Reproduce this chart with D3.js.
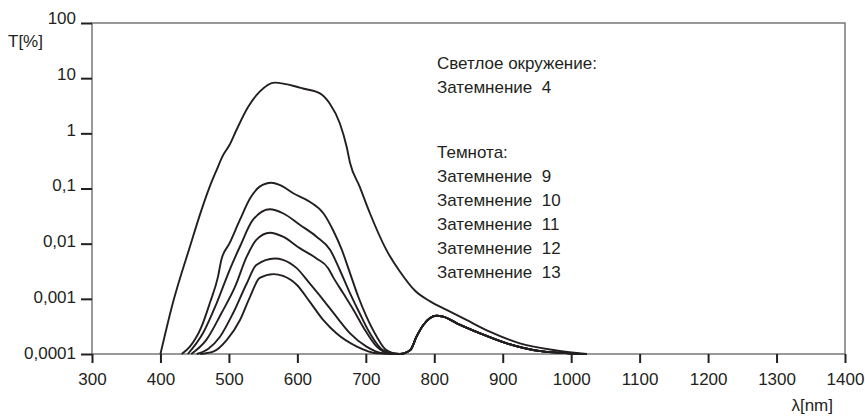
<!DOCTYPE html>
<html>
<head>
<meta charset="utf-8">
<script src="https://cdn.jsdelivr.net/npm/d3@7"></script>
<style>
  body { margin: 0; background: #fff; }
  text { font-family: "Liberation Sans", Arial, sans-serif; fill: #231f20; }
</style>
</head>
<body>
<div id="chart"></div>
<script>
var xTicks = [300, 400, 500, 600, 700, 800, 900, 1000, 1100, 1200, 1300, 1400];
var yTicks = [0.0001, 0.001, 0.01, 0.1, 1, 10, 100];
var yTickLabels = ["0,0001", "0,001", "0,01", "0,1", "1", "10", "100"];

// [wavelength nm, transmission %]
var shade4 = [[400, 0.0001], [418, 0.00083], [443, 0.0088], [460, 0.041], [472, 0.108], [482, 0.216],
  [491, 0.39], [501, 0.62], [511, 1.15], [528, 3.0], [545, 5.7], [567, 8.3], [599, 7.0],
  [608, 6.5], [633, 5.3], [647, 3.5], [662, 1.52], [672, 0.57], [677, 0.29], [691, 0.108], [706, 0.0356],
  [730, 0.0077], [750, 0.0031], [772, 0.0014], [794, 0.0009], [818, 0.00063], [847, 0.000414],
  [881, 0.000254], [925, 0.000156], [974, 0.000118], [1023, 0.0001]];

var shade9 = [[431, 0.0001], [443, 0.000136], [460, 0.000313], [472, 0.00083], [484, 0.0025], [489, 0.0051],
  [501, 0.0102], [516, 0.0269], [531, 0.0665], [545, 0.108], [562, 0.127], [574, 0.116], [594, 0.082],
  [618, 0.0577], [638, 0.0356], [652, 0.0177], [665, 0.0077], [677, 0.0029], [689, 0.00109],
  [701, 0.000475], [716, 0.000206], [730, 0.000118], [750, 0.0001]];

var shade10 = [[440, 0.0001], [462, 0.000237], [482, 0.00083], [501, 0.00333], [516, 0.0088], [535, 0.0269],
  [560, 0.042], [579, 0.0356], [604, 0.0218], [628, 0.0134], [648, 0.0077], [662, 0.00333], [677, 0.00126],
  [691, 0.000547], [706, 0.000237], [725, 0.000118], [750, 0.0001]];

var shade11 = [[445, 0.0001], [467, 0.00018], [489, 0.000547], [509, 0.00166], [526, 0.0058], [540, 0.0117],
  [560, 0.0158], [579, 0.0134], [604, 0.0082], [628, 0.0054], [645, 0.0036], [652, 0.0025], [667, 0.00126],
  [682, 0.00063], [699, 0.00027], [716, 0.000136], [735, 0.000102], [750, 0.0001]];

var shade12 = [[453, 0.0001], [470, 0.000125], [487, 0.000206], [506, 0.000547], [526, 0.0019], [540, 0.0041],
  [567, 0.0054], [579, 0.0051], [599, 0.0036], [618, 0.0019], [638, 0.00095], [657, 0.000475],
  [677, 0.000237], [701, 0.000136], [725, 0.000103], [750, 0.0001]];

var shade13 = [[458, 0.0001], [477, 0.00011], [497, 0.00018], [516, 0.00041], [531, 0.0011], [545, 0.0024],
  [565, 0.0028], [579, 0.0026], [599, 0.0018], [618, 0.00089], [638, 0.00041], [657, 0.000237],
  [687, 0.000136], [716, 0.000103], [750, 0.0001]];

// common near-IR tail of the dark-adapted shades
var darkTail = [[765, 0.000118], [774, 0.000206], [784, 0.000336], [803, 0.000495], [813, 0.000475],
  [833, 0.00036], [867, 0.000237], [906, 0.000156], [955, 0.000113], [1023, 0.0001]];

var brightLabels = ["Светлое окружение:", "Затемнение  4"];
var darkLabels = ["Темнота:", "Затемнение  9", "Затемнение  10", "Затемнение  11", "Затемнение  12", "Затемнение  13"];

var fontSize = 17;

var svg = d3.select("#chart").append("svg")
  .attr("width", 865)
  .attr("height", 416);

var x = d3.scaleLinear().domain([300, 1400]).range([92, 845]);
var y = d3.scaleLog().domain([0.0001, 100]).range([354, 23]);

// frame
svg.append("rect")
  .attr("x", x(300))
  .attr("y", y(100))
  .attr("width", x(1400) - x(300))
  .attr("height", y(0.0001) - y(100))
  .attr("fill", "none")
  .attr("stroke", "#6e6e6e")
  .attr("stroke-width", 1.4);

var xAxis = svg.append("g")
  .attr("transform", `translate(0, ${y(0.0001)})`)
  .call(d3.axisBottom(x).tickValues(xTicks).tickSize(9).tickSizeOuter(0).tickFormat(d3.format("d")));

var yAxis = svg.append("g")
  .attr("transform", `translate(${x(300)}, 0)`)
  .call(d3.axisLeft(y).tickValues(yTicks).tickSize(11).tickSizeOuter(0)
    .tickFormat((d, i) => yTickLabels[i]));

[xAxis, yAxis].forEach(function(g) {
  g.select(".domain").remove();
  g.selectAll(".tick line").attr("stroke", "#231f20").attr("stroke-width", 2);
  g.selectAll(".tick text")
    .attr("font-family", "Liberation Sans, Arial, sans-serif")
    .attr("font-size", fontSize)
    .attr("fill", "#231f20");
});

xAxis.selectAll(".tick text").attr("y", 31).attr("dy", null);
yAxis.selectAll(".tick text").attr("x", -16).attr("dy", null).attr("y", (d, i) => 4 - i * 0.55);

svg.append("text")
  .attr("x", 8)
  .attr("y", 47)
  .attr("font-size", fontSize)
  .text("T[%]");

svg.append("text")
  .attr("x", 833)
  .attr("y", 411)
  .attr("text-anchor", "end")
  .attr("font-size", fontSize)
  .text("λ[nm]");

var line = d3.line()
  .x(d => x(d[0]))
  .y(d => y(d[1]))
  .curve(d3.curveMonotoneX);

var curves = [shade4, shade9.concat(darkTail), shade10.concat(darkTail), shade11.concat(darkTail),
  shade12.concat(darkTail), shade13.concat(darkTail)];

svg.selectAll(".curve")
  .data(curves)
  .enter()
  .append("path")
  .attr("class", "curve")
  .attr("d", line)
  .attr("fill", "none")
  .attr("stroke", "#231f20")
  .attr("stroke-width", 1.9);

svg.selectAll(".bright")
  .data(brightLabels)
  .enter()
  .append("text")
  .attr("x", 437)
  .attr("y", (d, i) => 69 + i * 24)
  .attr("font-size", fontSize)
  .style("white-space", "pre")
  .text(d => d);

svg.selectAll(".dark")
  .data(darkLabels)
  .enter()
  .append("text")
  .attr("x", 437)
  .attr("y", (d, i) => 158 + i * 24)
  .attr("font-size", fontSize)
  .style("white-space", "pre")
  .text(d => d);
</script>
</body>
</html>
